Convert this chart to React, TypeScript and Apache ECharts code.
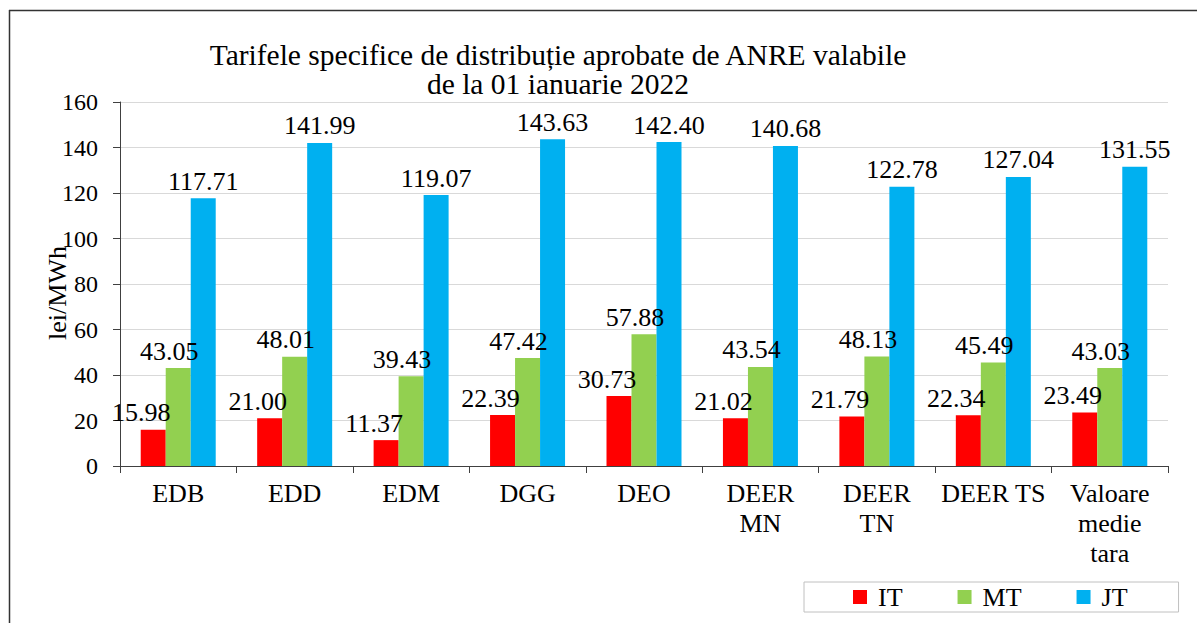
import React, { useEffect, useRef } from "react";
import * as echarts from "echarts";

const categories = ["EDB", "EDD", "EDM", "DGG", "DEO", "DEER\nMN", "DEER\nTN", "DEER TS", "Valoare\nmedie\ntara"];
const itValues = [15.98, 21.0, 11.37, 22.39, 30.73, 21.02, 21.79, 22.34, 23.49];
const mtValues = [43.05, 48.01, 39.43, 47.42, 57.88, 43.54, 48.13, 45.49, 43.03];
const jtValues = [117.71, 141.99, 119.07, 143.63, 142.4, 140.68, 122.78, 127.04, 131.55];
const seriesNames = ["IT", "MT", "JT"];
const titleText = "Tarifele specifice de distribuție aprobate de ANRE valabile\nde la 01 ianuarie 2022";
const yName = "lei/MWh";

const FONT = "Liberation Serif";

export default function App() {
  const ref = useRef<HTMLDivElement>(null);
  useEffect(() => {
    if (!ref.current) return;
    const chart = echarts.init(ref.current, null, { renderer: "svg" });
    const mkLabel = (dx: number) => ({
      show: true,
      position: "top",
      distance: 4,
      offset: [dx, 0],
      fontFamily: FONT,
      fontSize: 26,
      color: "#000",
      formatter: (p: any) => Number(p.value).toFixed(2),
    });
    const data = [itValues, mtValues, jtValues];
    const colors = ["#FF0000", "#92D050", "#00B0F0"];
    const offsets = [-12, -9, 0];
    chart.setOption({
      animation: false,
      backgroundColor: "#fff",
      textStyle: { fontFamily: FONT },
      title: {
        text: titleText,
        left: 553,
        textAlign: "center",
        top: 35,
        textStyle: { fontFamily: FONT, fontSize: 29.5, fontWeight: "normal", color: "#000", lineHeight: 29 },
      },
      legend: {
        data: seriesNames,
        left: 804,
        top: 582,
        orient: "horizontal",
        icon: "rect",
        itemWidth: 14,
        itemHeight: 14,
        itemGap: 55,
        borderColor: "#c0c0c0",
        borderWidth: 1,
        padding: [2, 51, 2, 49],
        textStyle: { fontFamily: FONT, fontSize: 26, color: "#000", padding: [0, 0, 0, 6] },
      },
      grid: { left: 120, right: 29, top: 102, bottom: 157, containLabel: false },
      xAxis: {
        type: "category",
        data: categories,
        axisLine: { show: true, lineStyle: { color: "#404040", width: 1 } },
        axisTick: { show: true, alignWithLabel: false, length: 7, lineStyle: { color: "#404040" } },
        axisLabel: { interval: 0, fontFamily: FONT, fontSize: 26, lineHeight: 30, color: "#000", margin: 12 },
        splitLine: { show: false },
      },
      yAxis: {
        type: "value",
        min: 0,
        max: 160,
        interval: 20,
        axisLine: { show: true, lineStyle: { color: "#404040", width: 1 } },
        axisTick: { show: true, length: 7, lineStyle: { color: "#404040" } },
        axisLabel: { fontFamily: FONT, fontSize: 24, color: "#000", margin: 22 },
        splitLine: { show: true, lineStyle: { color: "#d9d9d9", width: 1 } },
      },
      series: seriesNames.map((name, i) => ({
        name,
        type: "bar",
        data: data[i],
        barWidth: 25,
        barGap: "0%",
        itemStyle: { color: colors[i] },
        label: mkLabel(offsets[i]),
      })),
      graphic: [
        { type: "line", shape: { x1: 9, y1: 10.5, x2: 1197, y2: 10.5 }, style: { stroke: "#333", lineWidth: 1.5 } },
        { type: "line", shape: { x1: 9.5, y1: 10, x2: 9.5, y2: 623 }, style: { stroke: "#333", lineWidth: 1.5 } },
        {
          type: "text",
          x: 57,
          y: 293,
          rotation: Math.PI / 2,
          style: { text: yName, fontFamily: FONT, fontSize: 26, fill: "#000", align: "center", verticalAlign: "middle" },
        },
      ],
    });
    return () => chart.dispose();
  }, []);
  return <div ref={ref} style={{ position: "absolute", left: 0, top: 0, width: 1197, height: 623 }} />;
}
